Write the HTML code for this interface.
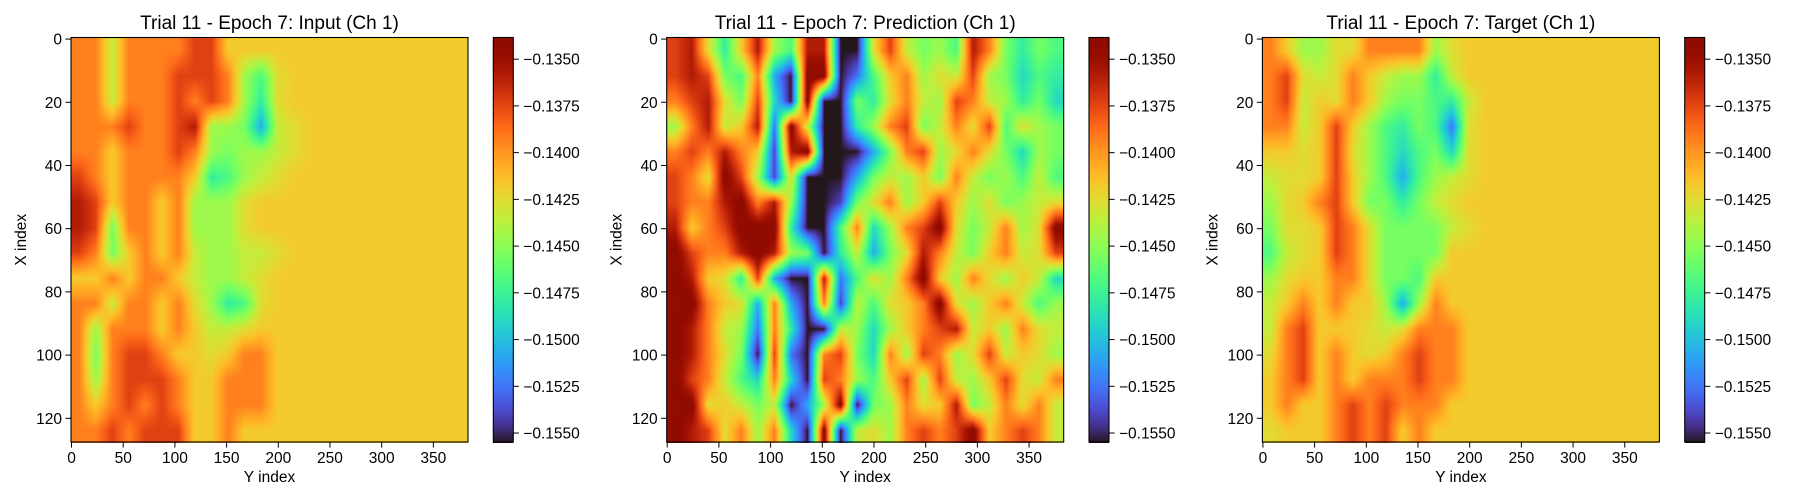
<!DOCTYPE html>
<html><head><meta charset="utf-8"><style>
html,body{margin:0;padding:0;background:#fff;width:1800px;height:500px;overflow:hidden}
#wrap{position:relative;width:1800px;height:500px}
canvas{position:absolute}
svg{position:absolute;left:0;top:0}
text{font-family:"Liberation Sans","DejaVu Sans",sans-serif;fill:#000}
</style></head><body>
<div id="wrap">
<canvas id="c0"></canvas>
<canvas id="c1"></canvas>
<canvas id="c2"></canvas>
<canvas id="b0"></canvas>
<canvas id="b1"></canvas>
<canvas id="b2"></canvas>
<svg id="ov" width="1800" height="500"></svg>
</div>
<script>
// value range of the colour scale
const vmax = -0.13384, vmin = -0.15548;
const titles = ["Trial 11 - Epoch 7: Input (Ch 1)","Trial 11 - Epoch 7: Prediction (Ch 1)","Trial 11 - Epoch 7: Target (Ch 1)"];
const xTicks = [0,50,100,150,200,250,300,350];
const yTicks = [0,20,40,60,80,100,120];
const cbTicks = [-0.1350,-0.1375,-0.1400,-0.1425,-0.1450,-0.1475,-0.1500,-0.1525,-0.1550];
// normalized scale position for each hex level 0..f
const levelScale = [0,0.07,0.14,0.22,0.3,0.35,0.4,0.46,0.51,0.56,0.6,0.635,0.75,0.84,0.91,1];
// field levels, 16 rows x 24 cols
const inputRows = [
"cc9ccccddbbbbbbbbbbbbbbb",
"cc9cccdddc86abbbbbbbbbbb",
"cc9cccdcdc85abbbbbbbbbbb",
"cccdccde88739abbbbbbbbbb",
"ccbcccdc87889abbbbbbbbbb",
"dcbccccb5689abbbbbbbbbbb",
"edbccbc888abbbbbbbbbbbbb",
"ed7ccbc888abbbbbbbbbbbbb",
"dc7bcbc98899abbbbbbbbbbb",
"bbcbccb9889abbbbbbbbbbbb",
"cc9ccbca856abbbbbbbbbbbb",
"c8cccbcb99abbbbbbbbbbbbb",
"c7cddcbbabccbbbbbbbbbbbb",
"c8cdddcbbcccbbbbbbbbbbbb",
"cbcdcdcbbcccbbbbbbbbbbbb",
"ccdcdddbbcbbbbbbbbbbbbbb"];
const predRows = [
"dea5be86ee00ad9786ec7576",
"ded76c30ff026bc8a9d87465",
"cdea7d40f0075ac98dc98574",
"8ce9be2f90058cd79cad6a87",
"cdcecb1ef00037cd8aca7487",
"dcafd81a0003798b7c978696",
"dccefce80017ac8bdb8a789a",
"ebcdfff5006c48cdfa79c8af",
"fdccefe8705937aec97bc9ad",
"feba5d300e26a8cfb8ca8b94",
"ffcba3c30c196abcfa8bc968",
"fec982c5009848bcde9b8ca9",
"feca70d20cd74c8dc8ad9ba8",
"fdc964c40dc86bd8d98bda9c",
"ffab979038f078cabe79cac9",
"fedac8c40f09a8cdcdfbcdc9"];
const targetRows = [
"cb88aacccc8abbbbbbbbbbbb",
"cda9acb98859bbbbbbbbbbbb",
"cd9bacb877659bbbbbbbbbbb",
"cc9bdb865762abbbbbbbbbbb",
"bbabda864674abbbbbbbbbbb",
"9aabdb863689abbbbbbbbbbb",
"8abcdb77579abbbbbbbbbbbb",
"7aabdca77779abbbbbbbbbbb",
"69abdca7777bbbbbbbbbbbbb",
"8abbcca776bbbbbbbbbbbbbb",
"9bcbcbb838cbbbbbbbbbbbbb",
"9cdbbba9acccbbbbbbbbbbbb",
"acdbcbabcdccbbbbbbbbbbbb",
"bcdbcbcccdccbbbbbbbbbbbb",
"bcbbcdcdcccbbbbbbbbbbbbb",
"abbbcdcdbcbbbbbbbbbbbbbb"];

const fields = [inputRows, predRows, targetRows];
const plotX = [71, 666.7, 1262.4], plotW = 397, plotY = 37.5, plotH = 404.5;
const cbX = [493.3, 1089, 1684.7], cbW = 20;

function turbo(t){
  t=Math.max(0,Math.min(1,t));
  const r=0.13572138+t*(4.61539260+t*(-42.66032258+t*(132.13108234+t*(-152.94239396+t*59.28637943))));
  const g=0.09140261+t*(2.19418839+t*(4.84296658+t*(-14.18503333+t*(4.27729857+t*2.82956604))));
  const b=0.10667330+t*(12.64194608+t*(-60.58204836+t*(110.36276771+t*(-89.90310912+t*27.34824973))));
  return [r*255,g*255,b*255].map(v=>Math.max(0,Math.min(255,Math.round(v))));
}
function levelToValue(ch){ return vmin + levelScale[parseInt(ch,16)]*(vmax-vmin); }
function norm(v){ return (v-vmin)/(vmax-vmin); }

fields.forEach((rows,k)=>{
  const vals = rows.map(r=>r.split("").map(levelToValue));
  const R=vals.length, C=vals[0].length;
  const cv=document.getElementById("c"+k);
  const W=Math.round(plotW), H=Math.round(plotH);
  cv.width=W; cv.height=H;
  cv.style.left=plotX[k]+"px"; cv.style.top=plotY+"px";
  const ctx=cv.getContext("2d"); const img=ctx.createImageData(W,H);
  for(let y=0;y<H;y++){
    let fy=(y+0.5)/H*R-0.5; fy=Math.max(0,Math.min(R-1,fy));
    const y0=Math.floor(fy), y1=Math.min(R-1,y0+1), dy=fy-y0;
    for(let x=0;x<W;x++){
      let fx=(x+0.5)/W*C-0.5; fx=Math.max(0,Math.min(C-1,fx));
      const x0=Math.floor(fx), x1=Math.min(C-1,x0+1), dx=fx-x0;
      const v=(vals[y0][x0]*(1-dx)+vals[y0][x1]*dx)*(1-dy)+(vals[y1][x0]*(1-dx)+vals[y1][x1]*dx)*dy;
      const c=turbo(norm(v)); const i=(y*W+x)*4;
      img.data[i]=c[0];img.data[i+1]=c[1];img.data[i+2]=c[2];img.data[i+3]=255;
    }
  }
  ctx.putImageData(img,0,0);
  const bc=document.getElementById("b"+k);
  bc.width=cbW; bc.height=H; bc.style.left=cbX[k]+"px"; bc.style.top=plotY+"px";
  const bx=bc.getContext("2d");
  for(let y=0;y<H;y++){const c=turbo(1-(y+0.5)/H);bx.fillStyle=`rgb(${c[0]},${c[1]},${c[2]})`;bx.fillRect(0,y,cbW,1);}
});

const NS="http://www.w3.org/2000/svg", ov=document.getElementById("ov");
function el(tag,attrs,txt){const e=document.createElementNS(NS,tag);for(const a in attrs)e.setAttribute(a,attrs[a]);if(txt!==undefined)e.textContent=txt;ov.appendChild(e);return e;}
const xs=(k,v)=>plotX[k]+(v+0.5)/384*plotW;
const ys=v=>plotY+(v+0.5)/128*plotH;
const cy=v=>plotY+(vmax-v)/(vmax-vmin)*plotH;

for(let k=0;k<3;k++){
  const t=el("text",{x:plotX[k]+plotW/2,y:29,"text-anchor":"middle","font-size":"19"},titles[k]);
  
  
  const fr=el("rect",{x:plotX[k],y:plotY,width:plotW,height:plotH,fill:"none",stroke:"#000","stroke-width":1.1});
  
  
  xTicks.forEach(v=>{
    const x=xs(k,v);
    el("line",{x1:x,x2:x,y1:plotY+plotH,y2:plotY+plotH+5.6,stroke:"#000","stroke-width":1});
    const tl=el("text",{x:x,y:plotY+plotH+21,"text-anchor":"middle","font-size":"15.5"},String(v));
    
    
  });
  yTicks.forEach(v=>{
    const y=ys(v);
    el("line",{x1:plotX[k]-5.6,x2:plotX[k],y1:y,y2:y,stroke:"#000","stroke-width":1});
    const tl=el("text",{x:plotX[k]-9,y:y+5.5,"text-anchor":"end","font-size":"15.5"},String(v));
    
    
  });
  const xl=el("text",{x:plotX[k]+plotW/2,y:482,"text-anchor":"middle","font-size":"15.5"},"Y index");
  
  
  const lx=plotX[k]-45, ly=plotY+plotH/2;
  const yl=el("text",{x:lx,y:ly,"text-anchor":"middle","font-size":"15.5",transform:`rotate(-90 ${lx} ${ly})`},"X index");
  
  
  const cf=el("rect",{x:cbX[k],y:plotY,width:cbW,height:plotH,fill:"none",stroke:"#000","stroke-width":1.1});
  
  
  cbTicks.forEach(v=>{
    const y=cy(v);
    el("line",{x1:cbX[k]+cbW,x2:cbX[k]+cbW+5.6,y1:y,y2:y,stroke:"#000","stroke-width":1});
    const tl=el("text",{x:cbX[k]+cbW+10,y:y+5.5,"font-size":"15.5"},"\u2212"+Math.abs(v).toFixed(4));
    
    
  });
}
</script>
</body></html>
